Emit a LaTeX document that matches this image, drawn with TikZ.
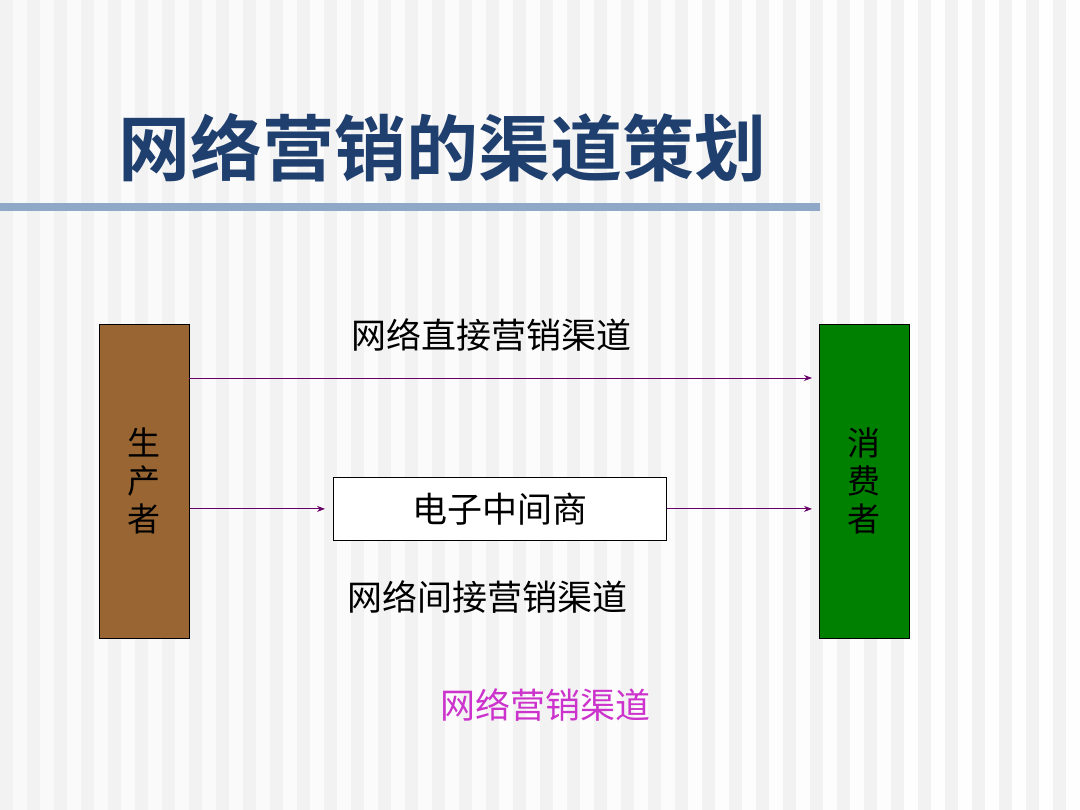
\documentclass[tikz,border=0pt]{standalone}
\usepackage{fontspec}
\newfontfamily\cjk{Noto Sans CJK SC}
\newfontfamily\cjkb{Noto Sans CJK SC Bold}
\definecolor{titleblue}{HTML}{1F3F6E}
\definecolor{barblue}{HTML}{8FA8C8}
\definecolor{brownbox}{HTML}{996633}
\definecolor{greenbox}{HTML}{008000}
\definecolor{arrowpurple}{HTML}{660066}
\definecolor{magentatext}{HTML}{CC33CC}
\usetikzlibrary{arrows.meta}
\tikzset{
  sidebox/.style={draw=black, line width=0.8pt, minimum width=90pt, minimum height=314pt, inner sep=0pt},
  midbox/.style={draw=black, fill=white, line width=0.8pt, minimum width=333pt, minimum height=63pt, inner sep=0pt},
  lbl/.style={font=\cjk\fontsize{35}{40}\selectfont, inner sep=0pt},
  conn/.style={draw=arrowpurple, line width=0.9pt, -{Stealth[length=8pt,width=6pt]}}
}
\begin{document}
\begin{tikzpicture}[x=1pt,y=-1pt]
\useasboundingbox (0,0) rectangle (1080,810);
\fill[gray!10] (0,0) rectangle (1080,810);
\foreach \i in {0,...,40}{
  \pgfmathsetmacro{\op}{0.6+0.4*\i/40}
  \fill[white,opacity=\op] ({\i*27+13},0) rectangle ({\i*27+27},810);
}
\node[anchor=west, text=titleblue, font=\cjkb\fontsize{72}{80}\selectfont, inner sep=0pt] (title) at (118,148) {网络营销的渠道策划};
\fill[barblue] (0,203) rectangle (820,211);
\node[sidebox, fill=brownbox, anchor=north west] (prod) at (99,324) {};
\node[sidebox, fill=greenbox, anchor=north west] (cons) at (819,324) {};
\node[lbl, align=center, font=\cjk\fontsize{33}{38}\selectfont] at (prod) {生\\产\\者};
\node[lbl, align=center, font=\cjk\fontsize{33}{38}\selectfont] at (cons) {消\\费\\者};
\node[midbox, anchor=north west] (mid) at (333,477) {};
\node[lbl] at (mid) {电子中间商};
\node[lbl] (direct) at (491,335) {网络直接营销渠道};
\node[lbl] (indirect) at (487,597) {网络间接营销渠道};
\node[lbl, text=magentatext] (all) at (545,705) {网络营销渠道};
\coordinate (a1) at (189,378);
\coordinate (a2) at (812,378);
\draw[conn] (a1) -- (a2);
\draw[conn] (prod.east |- mid) -- ([xshift=-8pt]mid.west);
\draw[conn] (mid.east) -- ([xshift=-7pt]cons.west |- mid);
\end{tikzpicture}
\end{document}
